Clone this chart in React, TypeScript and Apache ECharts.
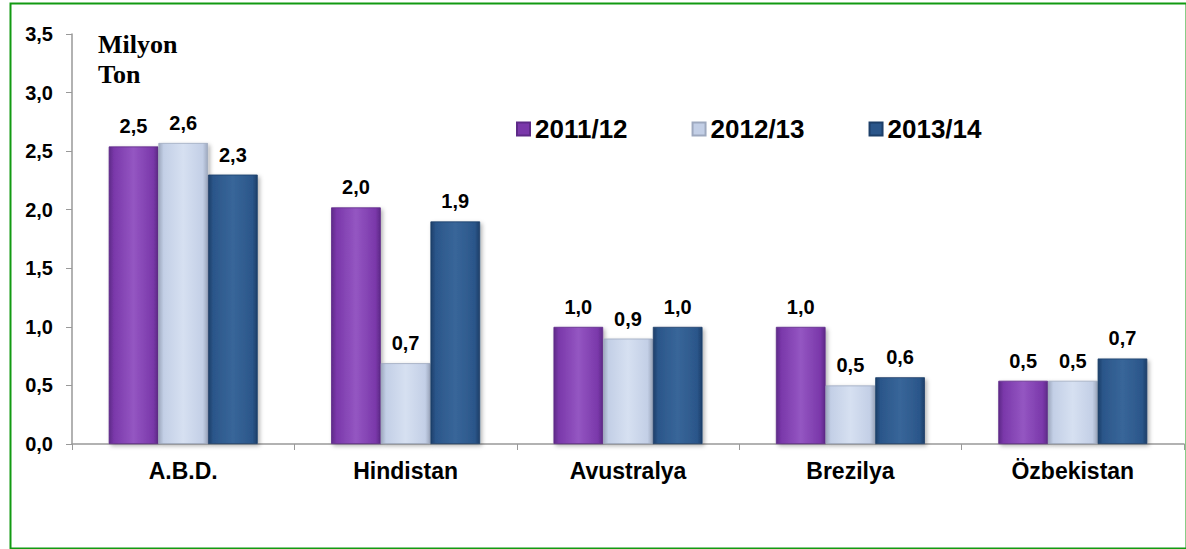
import React, { useEffect, useRef } from "react";
import * as echarts from "echarts";

const categories = ["A.B.D.", "Hindistan", "Avustralya", "Brezilya", "Özbekistan"];
const seriesNames = ["2011/12", "2012/13", "2013/14"];
const values2011 = [2.54, 2.02, 1.0, 1.0, 0.54];
const values2012 = [2.57, 0.69, 0.9, 0.5, 0.54];
const values2013 = [2.3, 1.9, 1.0, 0.57, 0.73];
const yTicks = { min: 0, max: 3.5, interval: 0.5 };

const fmt = (v: number) => v.toFixed(1).replace(".", ",");

const palettes = [
  { edge: "#5e2a88", base: "#7a38aa", light: "#9456c2" },
  { edge: "#9ea9bf", base: "#c3cfe6", light: "#d6e0f1" },
  { edge: "#1d3f69", base: "#2b568a", light: "#386699" },
];

function grad(p: { edge: string; base: string; light: string }) {
  return new echarts.graphic.LinearGradient(0, 0, 1, 0, [
    { offset: 0, color: p.edge },
    { offset: 0.1, color: p.base },
    { offset: 0.5, color: p.light },
    { offset: 0.9, color: p.base },
    { offset: 1, color: p.edge },
  ]);
}

const SANS = "Liberation Sans, Arial, sans-serif";

export default function App() {
  const ref = useRef<HTMLDivElement>(null);
  useEffect(() => {
    document.body.style.margin = "0";
    const chart = echarts.init(ref.current!, null, { renderer: "svg" });
    const allData = [values2011, values2012, values2013];
    chart.setOption({
      animation: false,
      backgroundColor: "#ffffff",
      grid: { left: 72, right: 2, top: 34, bottom: 105 },
      legend: {
        left: 511,
        top: 111,
        itemWidth: 13,
        itemHeight: 13,
        itemGap: 64,
        icon: "rect",
        textStyle: {
          fontFamily: SANS,
          fontWeight: "bold",
          fontSize: 26,
          color: "#000",
        },
        data: seriesNames.map((n, i) => ({
          name: n,
          itemStyle: { color: palettes[i].base },
        })),
      },
      xAxis: {
        type: "category",
        data: categories,
        axisLine: { lineStyle: { color: "#999", width: 1.5 } },
        axisTick: { show: true, length: 6, lineStyle: { color: "#999" } },
        axisLabel: {
          margin: 15,
          fontFamily: SANS,
          fontWeight: "bold",
          fontSize: 23,
          color: "#000",
        },
      },
      yAxis: {
        type: "value",
        min: yTicks.min,
        max: yTicks.max,
        interval: yTicks.interval,
        splitLine: { show: false },
        axisLine: { show: true, lineStyle: { color: "#999", width: 1.5 } },
        axisTick: { show: true, length: 6, lineStyle: { color: "#999" } },
        axisLabel: {
          margin: 19,
          formatter: (v: number) => fmt(v),
          fontFamily: SANS,
          fontWeight: "bold",
          fontSize: 20,
          color: "#000",
        },
      },
      series: seriesNames.map((name, i) => ({
        name,
        type: "bar",
        data: allData[i],
        barGap: "0%",
        barCategoryGap: "33%",
        itemStyle: {
          color: grad(palettes[i]),
          borderColor: palettes[i].edge,
          borderWidth: 0.8,
          shadowBlur: 4,
          shadowOffsetX: 2,
          shadowOffsetY: 2,
          shadowColor: "rgba(0,0,0,0.3)",
        },
        label: {
          show: true,
          position: "top",
          distance: 10,
          formatter: (p: any) => fmt(p.value),
          fontFamily: SANS,
          fontWeight: "bold",
          fontSize: 20,
          color: "#000",
        },
      })),
      graphic: [
        {
          type: "rect",
          left: 8,
          top: 1,
          shape: { width: 1176, height: 545 },
          style: { fill: "none", stroke: "#129a12", lineWidth: 2 },
          silent: true,
        },
        {
          type: "text",
          left: 98,
          top: 29,
          style: {
            text: "Milyon\nTon",
            fontFamily: "Liberation Serif, Times New Roman, serif",
            fontWeight: "bold",
            fontSize: 26,
            lineHeight: 30,
            fill: "#000",
          },
        },
      ],
    });
    return () => chart.dispose();
  }, []);
  return (
    <div
      ref={ref}
      style={{ position: "absolute", left: 0, top: 0, width: 1186, height: 549 }}
    />
  );
}
